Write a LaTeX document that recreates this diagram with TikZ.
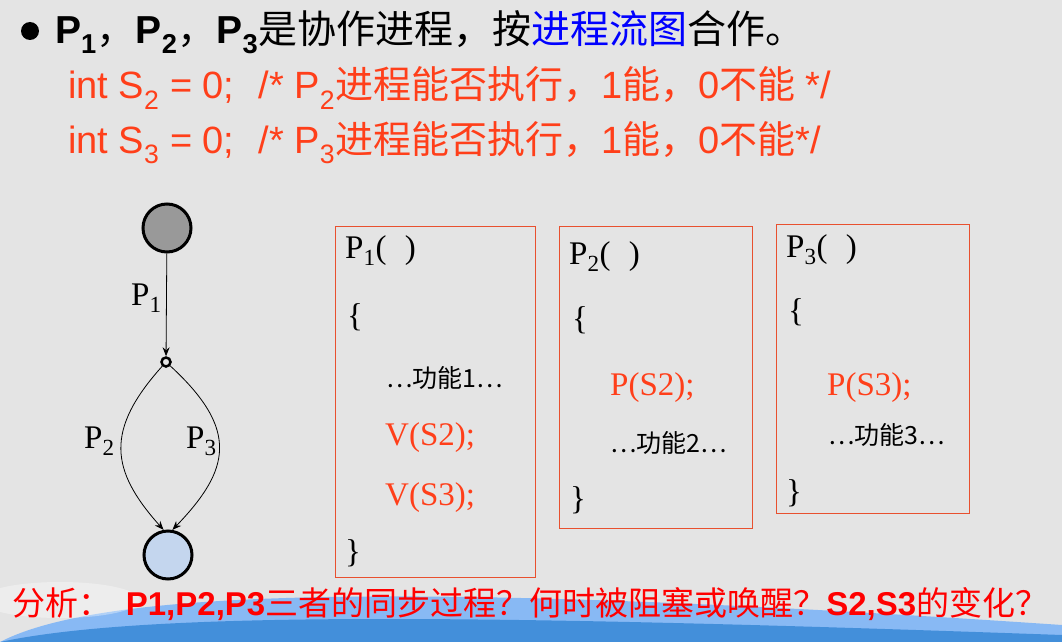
\documentclass[tikz,border=0pt]{standalone}
\usepackage{fontspec}
\setmainfont{Liberation Sans}
\newfontfamily\serifrm{Liberation Serif}
\newfontfamily\cjk{Noto Sans CJK SC}
\usetikzlibrary{arrows.meta}
\definecolor{bg}{HTML}{E4E4E4}
\definecolor{orng}{HTML}{FF3F1A}
\definecolor{boxr}{HTML}{E8502F}
\definecolor{lblue}{HTML}{C4D6EE}
\begin{document}
\begin{tikzpicture}[x=1pt,y=-1pt,
  tx/.style={anchor=west,inner sep=0pt},
  pbox/.style={draw=boxr,line width=1pt},
  code/.style={tx,font=\serifrm\fontsize{33}{34}\selectfont},
  small/.style={tx,font=\cjk\fontsize{25}{26}\selectfont},
  arr/.style={-{Stealth[length=9pt,width=7pt]},line width=0.8pt}]
\fill[bg] (0,0) rectangle (1062,642);
\useasboundingbox (0,0) rectangle (1062,642);
% bottom swoosh
\fill[blue!55!cyan!70!white,opacity=0.6] (0,642) .. controls (100,590) and (400,580) .. (1062,625) -- (1062,642) -- cycle;
\fill[blue!60!black!60!cyan,opacity=0.5] (0,642) .. controls (150,610) and (500,615) .. (1062,635) -- (1062,642) -- cycle;
\fill[white,opacity=0.35] (60,600) ellipse (80 and 18);
% title
\fill (30,31) circle (9);
\node[tx,font=\cjk\fontsize{39}{40}\selectfont] (t1) at (55,32) {\textbf{\fontspec{Liberation Sans}P\textsubscript{1}}，\textbf{\fontspec{Liberation Sans}P\textsubscript{2}}，\textbf{\fontspec{Liberation Sans}P\textsubscript{3}}是协作进程，按\textcolor{blue}{进程流图}合作。};
\node[tx,text=orng,font=\fontsize{38}{39}\selectfont] (t2) at (68,88) {int S\textsubscript{2} = 0;\hspace{24pt}/* P\textsubscript{2}{\cjk 进程能否执行，}1{\cjk 能，}0{\cjk 不能} */};
\node[tx,text=orng,font=\fontsize{38}{39}\selectfont] (t3) at (68,143) {int S\textsubscript{3} = 0;\hspace{24pt}/* P\textsubscript{3}{\cjk 进程能否执行，}1{\cjk 能，}0{\cjk 不能}*/};
% flow graph
\node[circle,draw,line width=3pt,fill=gray!80,minimum size=48pt,inner sep=0pt] (a) at (167,228) {};
\node[circle,draw,line width=2.5pt,minimum size=9pt,inner sep=0pt] (m) at (166,362) {};
\node[circle,draw,line width=3pt,fill=lblue,minimum size=48pt,inner sep=0pt] (b) at (168,555) {};
\draw[arr] (a) -- (m);
\draw[arr] (m) .. controls (105,430) and (110,470) .. (b.100);
\draw[arr] (m) .. controls (240,430) and (230,470) .. (b.80);
\node[code] (l1) at (131,298) {P\textsubscript{1}};
\node[code] (l2) at (84,441) {P\textsubscript{2}};
\node[code] (l3) at (186,441) {P\textsubscript{3}};
% boxes
\draw[pbox] (335,226) rectangle (535,577);
\draw[pbox] (559,226) rectangle (752,528);
\draw[pbox] (776,224) rectangle (969,513);
\node[code] (b1a) at (345,251) {P\textsubscript{1}(\;\;)};
\node[code] (b1b) at (347,317) {\{};
\node[small] (b1c) at (386,378) {…功能1…};
\node[code,text=orng] (b1d) at (385,438) {V(S2);};
\node[code,text=orng] (b1e) at (385,498) {V(S3);};
\node[code] (b1f) at (345,553) {\}};
\node[code] (b2a) at (569,257) {P\textsubscript{2}(\;\;)};
\node[code] (b2b) at (572,320) {\{};
\node[code,text=orng] (b2c) at (610,388) {P(S2);};
\node[small] (b2d) at (610,443) {…功能2…};
\node[code] (b2e) at (570,500) {\}};
\node[code] (b3a) at (786,250) {P\textsubscript{3}(\;\;)};
\node[code] (b3b) at (788,312) {\{};
\node[code,text=orng] (b3c) at (827,388) {P(S3);};
\node[small] (b3d) at (828,435) {…功能3…};
\node[code] (b3e) at (786,493) {\}};
% bottom text
\node[tx,text=red,font=\cjk\fontsize{33}{34}\selectfont] (bt) at (12,604) {分析：\;\,\textbf{\fontspec{Liberation Sans}P1,P2,P3}三者的同步过程？何时被阻塞或唤醒？\textbf{\fontspec{Liberation Sans}S2,S3}的变化？};
\end{tikzpicture}
\end{document}
